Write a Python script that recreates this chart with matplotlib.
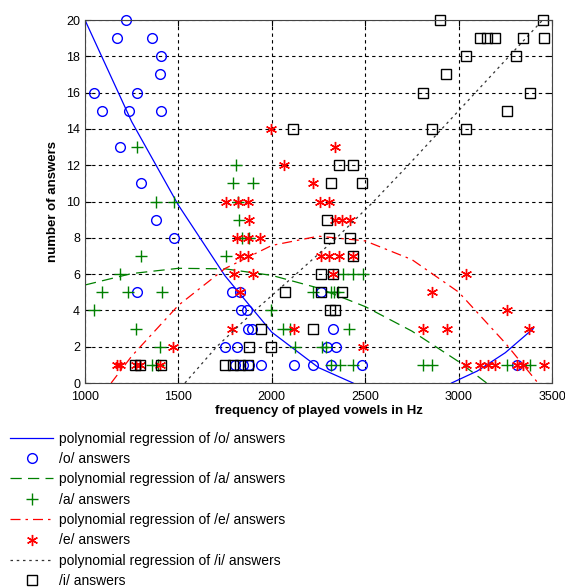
import matplotlib
matplotlib.use("Agg")
import matplotlib.pyplot as plt
from matplotlib.lines import Line2D

plt.rcParams['font.family'] = ['Liberation Sans', 'DejaVu Sans']

# /o/ answers
o_freq = [1221, 1171, 1360, 1405, 1400, 1050, 1277, 1091, 1234, 1408, 1189, 1300,
          1378, 1475, 1277, 1785, 1830, 2263, 1835, 1869, 1874, 1896, 2329,
          1749, 1812, 2297, 2342, 1805, 1845, 1880, 1942, 2119, 2222, 2315, 2484, 3311]
o_count = [20, 19, 19, 18, 17, 16, 16, 15, 15, 15, 13, 11,
           9, 8, 5, 5, 5, 5, 4, 4, 3, 3, 3,
           2, 2, 2, 2, 1, 1, 1, 1, 1, 1, 1, 1, 1]

# /a/ answers
a_freq = [1277, 1807, 1790, 1901, 1378, 1475, 1821, 1824, 1839, 1876, 1298, 1753,
          1187, 2383, 2433, 2487, 1089, 1228, 1410, 2222, 2315, 2335, 2355,
          1050, 1996, 1273, 2060, 2095, 2415, 1402, 2124, 2267, 2290,
          1360, 1390, 2315, 2365, 2433, 2811, 2856, 3257, 3382]
a_count = [13, 12, 11, 11, 10, 10, 10, 9, 8, 8, 7, 7,
           6, 6, 6, 6, 5, 5, 5, 5, 5, 5, 5,
           4, 4, 3, 3, 3, 3, 2, 2, 2, 2,
           1, 1, 1, 1, 1, 1, 1, 1, 1]

# /e/ answers
e_freq = [1996, 2067, 2222, 1755, 1821, 1874, 2260, 2308, 1878, 2338, 2377, 2419,
          1812, 1874, 1937, 1830, 1874, 2262, 2308, 2361, 2433,
          1799, 1901, 2326, 3040, 1830, 2856, 3257, 1789, 2119, 2811, 2939, 3379,
          1473, 2487, 1170, 1187, 1275, 1295, 1400,
          3038, 3115, 3159, 3195, 3311, 3346, 3459, 2338]
e_count = [14, 12, 11, 10, 10, 10, 10, 10, 9, 9, 9, 9,
           8, 8, 8, 7, 7, 7, 7, 7, 7,
           6, 6, 6, 6, 5, 5, 4, 3, 3, 3, 3, 3,
           2, 2, 1, 1, 1, 1, 1,
           1, 1, 1, 1, 1, 1, 1, 13]

# /i/ answers
i_freq = [2901, 3454, 3115, 3154, 3195, 3343, 3459, 3038, 3308, 2934, 2811, 3382,
          3257, 2115, 2856, 3038, 2361, 2433, 2315, 2484, 2294, 2308, 2419, 2433,
          2262, 2326, 2071, 2262, 2377, 2310, 2338, 1942, 2222, 1878, 1996,
          1270, 1295, 1405, 1750, 1790, 1830, 1870]
i_count = [20, 20, 19, 19, 19, 19, 19, 18, 18, 17, 16, 16,
           15, 14, 14, 14, 12, 12, 11, 11, 9, 8, 8, 7,
           6, 6, 5, 5, 5, 4, 4, 3, 3, 2, 2,
           1, 1, 1, 1, 1, 1, 1]

# regression curves
o_fit_x1 = [1000, 1250, 1500, 1750, 2000, 2250, 2435]
o_fit_y1 = [20.0, 14.4, 9.8, 5.9, 2.8, 0.85, 0.0]
o_fit_x2 = [2962, 3100, 3250, 3400]
o_fit_y2 = [0.0, 0.66, 1.67, 3.0]
a_fit_x = [1000, 1250, 1500, 1750, 2000, 2250, 2500, 2750, 3000, 3150]
a_fit_y = [5.4, 6.03, 6.32, 6.29, 5.93, 5.23, 4.21, 2.86, 1.18, 0.0]
e_fit_x = [1140, 1250, 1500, 1750, 2000, 2250, 2500, 2750, 3000, 3250, 3425]
e_fit_y = [0.0, 1.48, 4.28, 6.31, 7.58, 8.09, 7.83, 6.8, 5.01, 2.2, 0.0]
i_fit_x = [1535, 1705, 1910, 2130, 2347, 2545, 2730, 2910, 3090, 3270, 3450]
i_fit_y = [0, 2, 4, 6, 8, 10, 12, 14, 16, 18, 20]

labels = ['polynomial regression of /o/ answers', '/o/ answers',
          'polynomial regression of /a/ answers', '/a/ answers',
          'polynomial regression of /e/ answers', '/e/ answers',
          'polynomial regression of /i/ answers', '/i/ answers']

fig = plt.figure(figsize=(5.65, 5.87), dpi=100)
ax = fig.add_axes([0.1504, 0.3475, 0.8266, 0.6184])

blue, green, red = '#0000ff', '#008000', '#ff0000'
star = (6, 2, 0)

ax.plot(o_fit_x1, o_fit_y1, color=blue, lw=0.9)
ax.plot(o_fit_x2, o_fit_y2, color=blue, lw=0.9)
ax.plot(o_freq, o_count, ls='none', marker='o', ms=7, mfc='none', mec=blue, mew=1, clip_on=False)
ax.plot(a_fit_x, a_fit_y, color=green, lw=0.9, ls=(0, (9, 5)))
ax.plot(a_freq, a_count, ls='none', marker='+', ms=8, mec=green, mew=1, clip_on=False)
ax.plot(e_fit_x, e_fit_y, color=red, lw=0.9, ls=(0, (8, 4, 2, 4)))
ax.plot(e_freq, e_count, ls='none', marker=star, ms=8, mec=red, mew=1, clip_on=False)
ax.plot(i_fit_x, i_fit_y, color='#333333', lw=0.9, ls=(0, (2, 3)))
ax.plot(i_freq, i_count, ls='none', marker='s', ms=7, mfc='none', mec='black', mew=1, clip_on=False)

ax.set_xlim(1000, 3500)
ax.set_ylim(0, 20)
ax.set_xticks(range(1000, 3501, 500))
ax.set_yticks(range(0, 21, 2))
ax.grid(True, color='black', ls=(0, (3, 3)), lw=0.8)
ax.tick_params(direction='in', labelsize=9, length=4, top=True, right=True)
ax.tick_params(axis='x', pad=6)
for s in ax.spines.values():
    s.set_color('#444444')
ax.set_xlabel('frequency of played vowels in Hz', fontsize=9.5, fontweight='bold', labelpad=1.5)
ax.set_ylabel('number of answers', fontsize=9.5, fontweight='bold', labelpad=5)

handles = [
    Line2D([], [], color=blue, lw=0.9),
    Line2D([], [], ls='none', marker='o', ms=7, mfc='none', mec=blue),
    Line2D([], [], color=green, lw=0.9, ls=(0, (9, 5))),
    Line2D([], [], ls='none', marker='+', ms=8, mec=green),
    Line2D([], [], color=red, lw=0.9, ls=(0, (8, 4, 2, 4))),
    Line2D([], [], ls='none', marker=star, ms=8, mec=red),
    Line2D([], [], color='#333333', lw=0.9, ls=(0, (2, 3))),
    Line2D([], [], ls='none', marker='s', ms=7, mfc='none', mec='black'),
]
fig.legend(handles, labels, loc='upper left', bbox_to_anchor=(10 / 565, 1 - 431.5 / 587),
           frameon=False, fontsize=10, handlelength=3.1, handletextpad=0.43,
           labelspacing=0.46, borderaxespad=0, borderpad=0)

fig.savefig('out.png', dpi=100)
